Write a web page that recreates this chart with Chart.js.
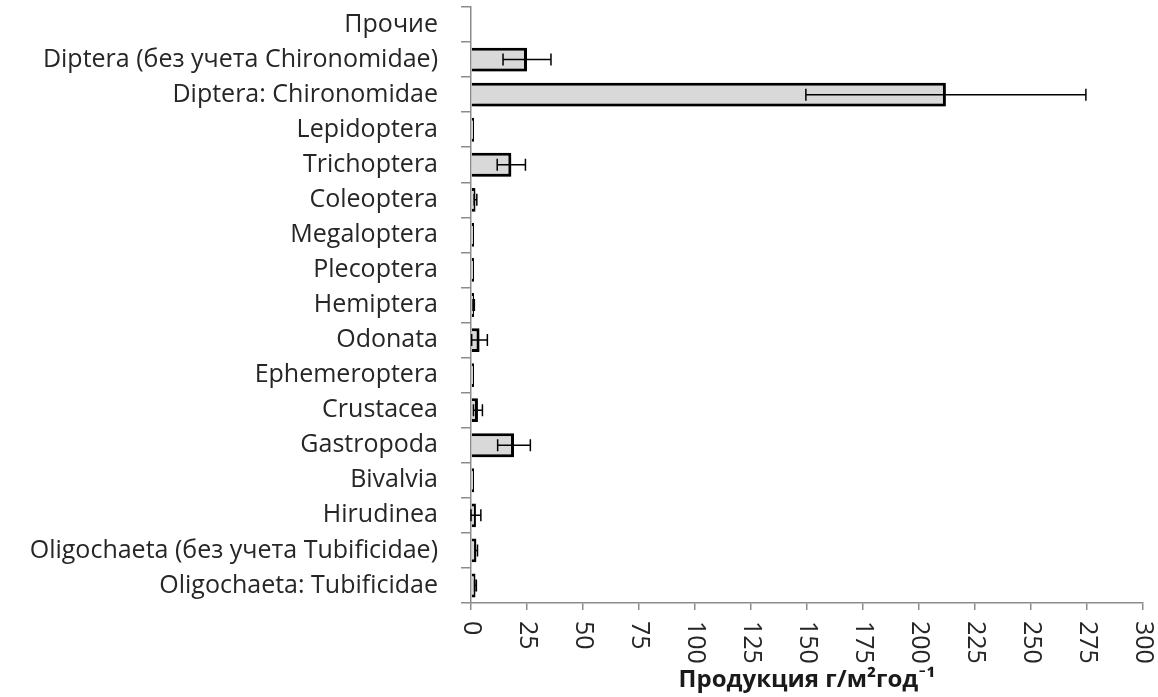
<!DOCTYPE html>
<html>
<head>
<meta charset="utf-8">
<script src="https://cdn.jsdelivr.net/npm/chart.js@4"></script>
<style>
  html, body { margin: 0; padding: 0; background: #fff; }
  #wrap { width: 1158px; height: 697px; }
</style>
</head>
<body>
<div id="wrap"><canvas id="bars"></canvas></div>
<script>
// categories, top to bottom as in the picture
const taxa = [
  "Прочие",
  "Diptera (без учета Chironomidae)",
  "Diptera: Chironomidae",
  "Lepidoptera",
  "Trichoptera",
  "Coleoptera",
  "Megaloptera",
  "Plecoptera",
  "Hemiptera",
  "Odonata",
  "Ephemeroptera",
  "Crustacea",
  "Gastropoda",
  "Bivalvia",
  "Hirudinea",
  "Oligochaeta (без учета Tubificidae)",
  "Oligochaeta: Tubificidae"
];
// production, g/m2 per year (Прочие: no bar visible)
const production = [null, 25, 212, 0.9, 18, 2, 0.8, 0.8, 1.2, 3.8, 0.8, 3.1, 19.2, 0.8, 2.2, 2.4, 2];
// error (+/-)
const errors = [0, 10.7, 62.5, 0, 6.3, 0.6, 0, 0, 0.3, 3.5, 0, 2, 7.3, 0, 2.2, 0.5, 0.4];
const xTicks = [0, 25, 50, 75, 100, 125, 150, 175, 200, 225, 250, 275, 300];

const FONT = "'Open Sans', Lato, sans-serif";

// soft shadow under the bars
const shadowPlugin = {
  id: "barShadow",
  beforeDatasetDraw(chart) {
    const ctx = chart.ctx;
    ctx.save();
    ctx.shadowColor = "rgba(0,0,0,0.35)";
    ctx.shadowBlur = 6;
    ctx.shadowOffsetX = 2;
    ctx.shadowOffsetY = 3;
  },
  afterDatasetDraw(chart) {
    chart.ctx.restore();
  }
};

// error bars
const errorPlugin = {
  id: "errorBars",
  afterDatasetsDraw(chart) {
    const ctx = chart.ctx;
    const xs = chart.scales.x;
    const meta = chart.getDatasetMeta(0);
    ctx.save();
    ctx.strokeStyle = "#000";
    ctx.lineWidth = 1.5;
    meta.data.forEach((bar, i) => {
      const e = errors[i];
      if (!e || production[i] == null) return;
      const v = production[i];
      const x0 = xs.getPixelForValue(Math.max(0, v - e));
      const x1 = xs.getPixelForValue(v + e);
      const y = bar.y;
      ctx.beginPath();
      ctx.moveTo(x0, y); ctx.lineTo(x1, y);
      ctx.moveTo(x0, y - 6); ctx.lineTo(x0, y + 6);
      ctx.moveTo(x1, y - 6); ctx.lineTo(x1, y + 6);
      ctx.stroke();
    });
    ctx.restore();
  }
};

// x tick labels turned clockwise (reading downwards)
const xLabelPlugin = {
  id: "xLabels",
  afterDraw(chart) {
    const ctx = chart.ctx;
    const xs = chart.scales.x;
    ctx.save();
    ctx.fillStyle = "#262626";
    ctx.font = "25px " + FONT;
    ctx.textAlign = "left";
    ctx.textBaseline = "middle";
    xTicks.forEach(t => {
      const x = xs.getPixelForValue(t);
      ctx.save();
      ctx.translate(x, xs.top + 18);
      ctx.rotate(Math.PI / 2);
      ctx.fillText(String(t), 0, 0);
      ctx.restore();
    });
    ctx.restore();
  }
};

new Chart(document.getElementById("bars"), {
  type: "bar",
  data: {
    labels: taxa,
    datasets: [{
      data: production,
      backgroundColor: "#d9d9d9",
      borderColor: "#000",
      borderWidth: 3,
      minBarLength: 3,
      barPercentage: 0.68,
      categoryPercentage: 1
    }]
  },
  options: {
    indexAxis: "y",
    responsive: true,
    maintainAspectRatio: false,
    animation: false,
    layout: { padding: { top: 7, right: 15, left: 0, bottom: 0 } },
    plugins: {
      legend: { display: false },
      tooltip: { enabled: false }
    },
    scales: {
      y: {
        afterFit: s => { s.width = 471; s.paddingTop = 0; s.paddingBottom = 0; },
        grid: { drawOnChartArea: false, tickLength: 10, color: "#8c8c8c", lineWidth: 1.5, offset: true },
        border: { color: "#8c8c8c", width: 1.5 },
        ticks: { color: "#262626", font: { family: FONT, size: 25 }, padding: 23 }
      },
      x: {
        min: 0,
        max: 300,
        afterFit: s => { s.height = 94; s.paddingLeft = 0; s.paddingRight = 0; },
        afterBuildTicks: s => { s.ticks = xTicks.map(v => ({ value: v })); },
        grid: { drawOnChartArea: false, tickLength: 7, color: "#8c8c8c", lineWidth: 1.5 },
        border: { color: "#8c8c8c", width: 1.5 },
        ticks: { display: false },
        title: {
          display: true,
          text: "Продукция г/м²год⁻¹",
          color: "#1a1a1a",
          font: { family: FONT, size: 24, weight: "bold" },
          padding: { top: 0, bottom: 2 }
        }
      }
    }
  },
  plugins: [shadowPlugin, errorPlugin, xLabelPlugin]
});
</script>
</body>
</html>
